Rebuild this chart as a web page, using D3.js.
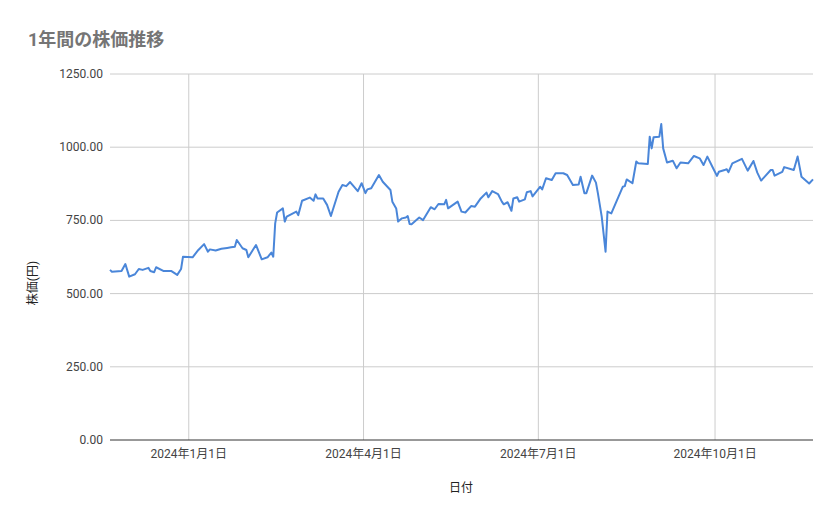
<!DOCTYPE html>
<html><head><meta charset="utf-8">
<script src="https://cdn.jsdelivr.net/npm/d3@7"></script>
<style>body{margin:0;background:#fff;font-family:Roboto,"Noto Sans CJK JP",sans-serif}</style>
</head><body>
<svg id="chart" width="839" height="519"></svg>
<script>
// days counted from 2024-01-01
var days = [-41,-40,-35,-33,-31,-28,-26,-24,-21,-20,-18,-17,-13,-9,-6,-4,-3,2,5,8,10,11,14,17,20,22,24,25,28,30,31,35,38,41,43,44,45,46,49,50,51,56,57,59,63,65,66,67,70,72,74,78,80,82,84,88,90,92,93,95,99,101,105,106,108,109,111,113,114,115,116,120,122,126,128,130,133,134,135,140,142,144,147,149,152,155,156,158,161,163,164,166,168,169,171,172,175,176,178,179,183,184,186,189,191,195,197,200,203,204,206,207,210,212,213,215,217,218,220,226,227,228,231,233,234,239,240,241,242,245,246,247,249,252,254,256,260,263,266,268,270,273,275,276,279,280,281,283,288,291,294,296,298,303,304,305,309,310,315,317,319,323,325];
var prices = [581,575,577,601,558,566,584,581,588,577,573,590,577,577,564,584,626,624,649,669,643,651,647,653,656,658,660,683,655,649,624,666,617,624,640,626,740,777,791,746,763,780,768,817,828,817,839,825,825,803,765,848,871,867,881,850,877,843,856,860,905,882,854,814,791,746,757,760,765,738,737,760,751,795,788,806,805,820,791,814,780,777,799,797,825,845,829,850,840,814,805,812,783,825,829,814,822,846,850,832,865,856,894,888,911,911,905,871,873,899,843,843,903,879,843,763,643,780,774,865,867,890,877,951,945,943,1036,996,1034,1036,1079,996,948,954,928,948,945,970,962,939,968,928,902,916,922,925,915,945,960,920,953,913,886,922,922,903,916,932,922,968,899,876,890];
var yTicks = [0,250,500,750,1000,1250];
var xTicks = ["2024-01-01","2024-04-01","2024-07-01","2024-10-01"];

var base = new Date(2024,0,1);
var data = days.map(function(d,i){ return {date: d3.timeDay.offset(base,d), value: prices[i]}; });

var svg = d3.select('#chart');
var plotL = 110, plotR = 813, plotT = 74, plotB = 440;

var x = d3.scaleTime().domain([new Date(2023,10,21), new Date(2024,10,21)]).range([plotL,plotR]);
var y = d3.scaleLinear().domain([0,1250]).range([plotB,plotT]);
var tickDates = xTicks.map(function(s){ var p=s.split('-'); return new Date(+p[0],+p[1]-1,+p[2]); });

svg.append('text').attr('x',28).attr('y',46).text('1年間の株価推移')
	.style('font-size','18px').style('font-weight','bold').style('fill','#757575');

// gridlines
svg.append('g').selectAll('line').data(tickDates).enter().append('line')
	.attr('x1',x).attr('x2',x).attr('y1',plotT).attr('y2',plotB)
	.attr('stroke','#ccc');
svg.append('g').selectAll('line').data(yTicks).enter().append('line')
	.attr('x1',plotL).attr('x2',plotR).attr('y1',y).attr('y2',y)
	.attr('stroke', function(d){ return d===0 ? '#333' : '#ccc'; }).attr('stroke-width',1);

svg.append('g').selectAll('text').data(yTicks).enter().append('text')
	.attr('x',103).attr('y',function(d){ return y(d)+4; }).attr('text-anchor','end')
	.text(function(d){ return d3.format('.2f')(d); })
	.style('font-size','12px').style('fill','#444');
svg.append('g').selectAll('text').data(tickDates).enter().append('text')
	.attr('x',x).attr('y',458).attr('text-anchor','middle')
	.text(function(d){ return d.getFullYear()+'年'+(d.getMonth()+1)+'月'+d.getDate()+'日'; })
	.style('font-size','12px').style('fill','#444');

svg.append('text').attr('x',461).attr('y',492).attr('text-anchor','middle').text('日付')
	.style('font-size','12px').style('fill','#222');
svg.append('text').attr('transform','translate(37,283) rotate(-90)').attr('text-anchor','middle')
	.text('株価(円)').style('font-size','12px').style('fill','#222');

var line = d3.line().x(function(d){ return x(d.date); }).y(function(d){ return y(d.value); });
svg.append('path').datum(data).attr('d',line).attr('fill','none')
	.attr('stroke','#4a86d9').attr('stroke-width',2).attr('stroke-linejoin','round');
</script>
</body></html>
